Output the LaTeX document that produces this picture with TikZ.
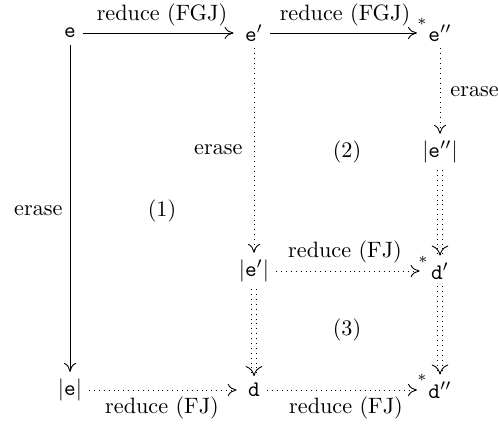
\documentclass[tikz,border=0pt]{standalone}
\usetikzlibrary{arrows.meta}
\begin{document}
\begin{tikzpicture}[x=0.45pt,y=-0.45pt,
  obj/.style={inner sep=3pt},
  lbl/.style={inner sep=0pt},
  strs/.style={inner sep=0pt,font=\scriptsize},
  sarr/.style={line width=0.4pt,-{To[length=4pt,width=5.5pt]}},
  dotarr/.style={line width=0.4pt,dash pattern=on 0.45pt off 1.75pt,-{To[length=4pt,width=5.5pt]}},
  dblline/.style={line width=0.4pt,double,double distance=1.6pt,dash pattern=on 0.45pt off 1.75pt,shorten >=0.8pt},
  dbltip/.style={line width=0.4pt,-{To[length=4.5pt,width=7.5pt]}}
]
\useasboundingbox (0,0) rectangle (498,426);
% objects
\node[obj] (e)   at (70,33)  {$\mathtt{e}$};
\node[obj] (ep)  at (254,33) {$\mathtt{e}'$};
\node[obj] (epp) at (440,33) {$\mathtt{e}''$};
\node[obj] (aepp) at (440,152) {$|\mathtt{e}''|$};
\node[obj] (aep) at (254,271) {$|\mathtt{e}'|$};
\node[obj] (dp)  at (440,271) {$\mathtt{d}'$};
\node[obj] (ae)  at (70,390) {$|\mathtt{e}|$};
\node[obj] (d)   at (254,390) {$\mathtt{d}$};
\node[obj] (dpp) at (440,390) {$\mathtt{d}''$};
% connectors
\draw[sarr,shorten >=2pt] (e) -- (ep);
\draw[sarr,shorten >=2pt] (ep) -- (epp);
\draw[sarr] (e) -- (ae);
\draw[dotarr] (ep) -- (aep);
\draw[dotarr] (epp) -- (aepp);
\draw[dblline] (aep) -- (d);
\draw[dbltip] ([yshift=1pt]d.north) -- (d.north);
\draw[dblline] (aepp) -- (dp);
\draw[dbltip] ([yshift=1pt]dp.north) -- (dp.north);
\draw[dblline] (dp) -- (dpp);
\draw[dbltip] ([yshift=1pt]dpp.north) -- (dpp.north);
\draw[dotarr,shorten >=2pt] (aep) -- (dp);
\draw[dotarr,shorten >=2pt] (ae) -- (d);
\draw[dotarr,shorten >=2pt] (d) -- (dpp);
% labels
\node[lbl] (l1) at (162,15) {reduce (FGJ)};
\node[lbl] (l2) at (345,15) {reduce (FGJ)};
\node[strs] (s1) at (422,22) {$*$};
\node[lbl,anchor=east] (er1) at (63,211) {erase};
\node[lbl] (r1) at (162,211) {(1)};
\node[lbl,anchor=east] (er2) at (243,150) {erase};
\node[lbl] (r2) at (347,152) {(2)};
\node[lbl,anchor=west] (er3) at (450,92) {erase};
\node[lbl] (l3) at (345,252) {reduce (FJ)};
\node[strs] (s2) at (423,260) {$*$};
\node[lbl] (r3) at (347,330) {(3)};
\node[lbl] (l4) at (162,408) {reduce (FJ)};
\node[lbl] (l5) at (346,408) {reduce (FJ)};
\node[strs] (s3) at (422,378) {$*$};
\end{tikzpicture}
\end{document}
